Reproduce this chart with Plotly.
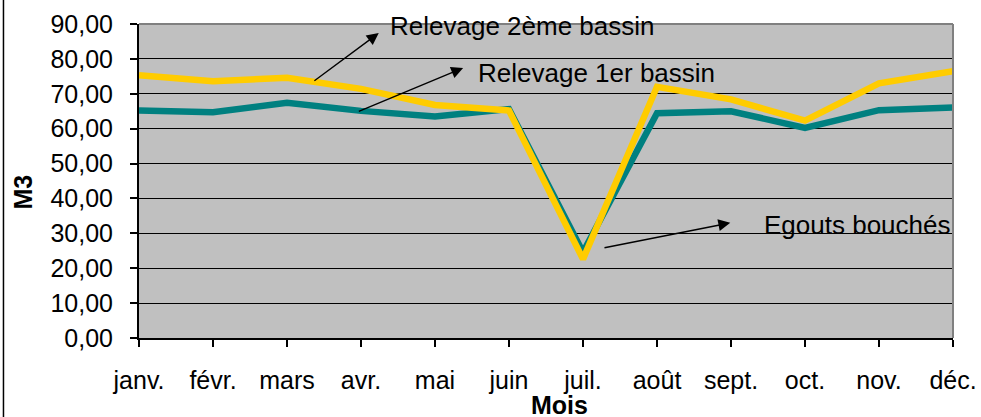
import plotly.graph_objects as go

months = ["janv.", "févr.", "mars", "avr.", "mai", "juin", "juil.", "août", "sept.", "oct.", "nov.", "déc."]
relevage_1er = [65.2, 64.7, 67.4, 65.1, 63.5, 65.6, 24.6, 64.4, 65.0, 60.2, 65.3, 66.1]
relevage_2eme = [75.3, 73.6, 74.6, 71.4, 66.8, 65.2, 22.6, 72.0, 68.4, 62.3, 73.0, 76.5]
y_ticks = [0, 10, 20, 30, 40, 50, 60, 70, 80, 90]
y_tick_labels = ["0,00", "10,00", "20,00", "30,00", "40,00", "50,00", "60,00", "70,00", "80,00", "90,00"]

x_idx = list(range(len(months)))
FONT = "Liberation Sans, Arial, sans-serif"

fig = go.Figure()
fig.add_trace(go.Scatter(x=x_idx, y=relevage_1er, mode="lines", name="Relevage 1er bassin",
                         line=dict(color="#008080", width=6.5), showlegend=False))
fig.add_trace(go.Scatter(x=x_idx, y=relevage_2eme, mode="lines", name="Relevage 2ème bassin",
                         line=dict(color="#FFCC00", width=6.5), showlegend=False))

fig.update_layout(
    width=981, height=417,
    margin=dict(l=139, r=28, t=24, b=79, autoexpand=False),
    paper_bgcolor="white", plot_bgcolor="#C0C0C0",
    font=dict(family=FONT, color="black", size=25),
)
fig.update_xaxes(
    range=[0, 11], tickvals=x_idx, ticktext=months, showgrid=False, zeroline=False,
    showline=True, linecolor="black", linewidth=2,
    ticks="outside", ticklen=7, tickwidth=1.5, tickcolor="black",
    tickfont=dict(size=25, family=FONT), ticklabelstandoff=12,
)
fig.update_yaxes(
    range=[0, 90], tickvals=y_ticks, ticktext=y_tick_labels,
    showgrid=True, gridcolor="black", gridwidth=1.2, zeroline=False,
    showline=True, linecolor="black", linewidth=2,
    ticks="outside", ticklen=7, tickwidth=1.5, tickcolor="black",
    tickfont=dict(size=25, family=FONT), ticklabelstandoff=12,
)

# gray plot frame on top / right
fig.add_shape(type="line", xref="paper", yref="paper", x0=0, x1=1, y0=1, y1=1,
              line=dict(color="#808080", width=2), layer="above")
fig.add_shape(type="line", xref="paper", yref="paper", x0=1, x1=1, y0=0, y1=1,
              line=dict(color="#808080", width=2), layer="above")
# outer chart border on the left
fig.add_shape(type="line", xref="paper", yref="paper", x0=-0.1665, x1=-0.1665, y0=-0.3, y1=1.2,
              line=dict(color="black", width=1.5))

ann_font = dict(family=FONT, size=26, color="black")
# arrows (head at x,y ; tail at ax,ay)
arrows = [
    (3.24, 87.4, 2.35, 73.4),
    (4.38, 77.4, 2.95, 64.8),
    (7.99, 33.0, 6.27, 25.8),
]
for hx, hy, tx, ty in arrows:
    fig.add_annotation(x=hx, y=hy, ax=tx, ay=ty, xref="x", yref="y", axref="x", ayref="y",
                       text="", showarrow=True, arrowhead=2, arrowsize=1.7, arrowwidth=1.4,
                       arrowcolor="black")
texts = [
    ("Relevage 2ème bassin", 3.36, 89.4),
    ("Relevage 1er bassin", 4.55, 76.0),
    ("Egouts bouchés", 8.42, 32.4),
]
for t, x, y in texts:
    fig.add_annotation(x=x, y=y, xref="x", yref="y", text=t, showarrow=False,
                       xanchor="left", yanchor="middle", font=ann_font)

fig.add_annotation(text="<b>Mois</b>", xref="paper", yref="paper", x=0.516, y=-0.213,
                   xanchor="center", yanchor="middle", showarrow=False,
                   font=dict(family=FONT, size=25, color="black"))
fig.add_annotation(text="<b>M3</b>", xref="paper", yref="paper", x=-0.1425, y=0.463,
                   xanchor="center", yanchor="middle", showarrow=False, textangle=-90,
                   font=dict(family=FONT, size=25, color="black"))

fig.write_html("out.html", config={"displayModeBar": False},
               post_script="document.body.style.margin='0';document.body.style.overflow='hidden';")
